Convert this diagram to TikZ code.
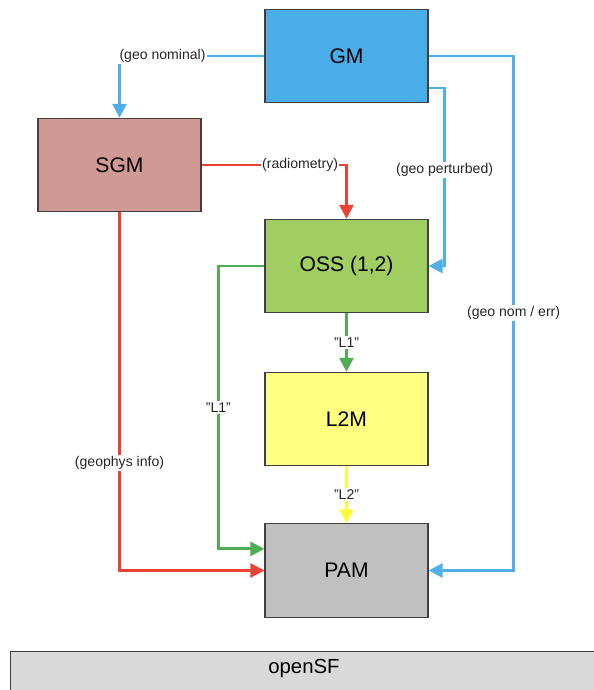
\documentclass[tikz,border=0pt]{standalone}
\usepackage{fontspec}
\setmainfont{Liberation Sans}
\usetikzlibrary{arrows.meta}
\definecolor{gmblue}{RGB}{75,173,232}
\definecolor{sgmrose}{RGB}{209,153,148}
\definecolor{ossgreen}{RGB}{160,206,99}
\definecolor{lyellow}{RGB}{255,255,128}
\definecolor{pamgray}{RGB}{192,192,192}
\definecolor{sfgray}{RGB}{217,217,217}
\definecolor{lineblue}{RGB}{80,175,235}
\definecolor{linered}{RGB}{234,67,53}
\definecolor{linegreen}{RGB}{80,172,85}
\definecolor{lineyellow}{RGB}{255,250,60}
\tikzset{
  box/.style={draw=black!75, line width=0.8pt, minimum width=4.075cm, minimum height=2.33cm,
    font=\fontsize{15}{17}\selectfont},
  flow/.style={line width=2pt, -{Triangle[length=10pt,width=10pt]}},
  lbl/.style={fill=white, inner sep=1pt, text=black!85, font=\fontsize{10}{12}\selectfont}
}

\begin{document}
\begin{tikzpicture}[x=0.025cm, y=-0.025cm]
  \useasboundingbox (0,0) rectangle (593,690);

  % Bloques
  \node[box, fill=gmblue]   (GM)  at (346.5,56)  {GM};
  \node[box, fill=sgmrose]  (SGM) at (119.5,165) {SGM};
  \node[box, fill=ossgreen] (OSS) at (346.5,266) {OSS (1,2)};
  \node[box, fill=lyellow]  (L2M) at (346.5,419) {L2M};
  \node[box, fill=pamgray]  (PAM) at (346.5,570.5) {PAM};
  \node[draw=black!75, line width=0.8pt, fill=sfgray, minimum width=15cm, minimum height=1.3cm,
    anchor=north west] (SF) at (9.5,651) {};
  \node[font=\fontsize{14.5}{17}\selectfont] (SFtxt) at (304,668) {openSF};

  % Flujos desde GM
  \draw[flow, lineblue] (GM.west) -| node[pos=0.5, lbl, anchor=west, xshift=-2pt] {(geo nominal)} (SGM.north);
  \draw[flow, lineblue] (GM.east) -- ++(85,0) |- node[pos=0.25, lbl] {(geo nom / err)} (PAM.east);
  \draw[flow, lineblue] ([yshift=0.38cm]GM.south east) -- ++(16,0) |- node[pos=0.23, lbl] {(geo perturbed)} (OSS.east);

  % Flujos desde SGM
  \draw[flow, linered] (SGM.east) -| node[pos=0.34, lbl] {(radiometry)} (OSS.north);
  \draw[flow, linered] (SGM.south) |- node[pos=0.35, lbl] {(geophys info)} (PAM.west);

  % Productos L1 / L2
  \draw[flow, linegreen] (OSS.west) -- ++(-46,0) |- node[pos=0.25, lbl] {"L1"} ([yshift=0.54cm]PAM.west);
  \draw[flow, linegreen] (OSS.south) -- node[lbl] {"L1"} (L2M.north);
  \draw[flow, lineyellow] (L2M.south) -- node[lbl] {"L2"} (PAM.north);
\end{tikzpicture}
\end{document}
